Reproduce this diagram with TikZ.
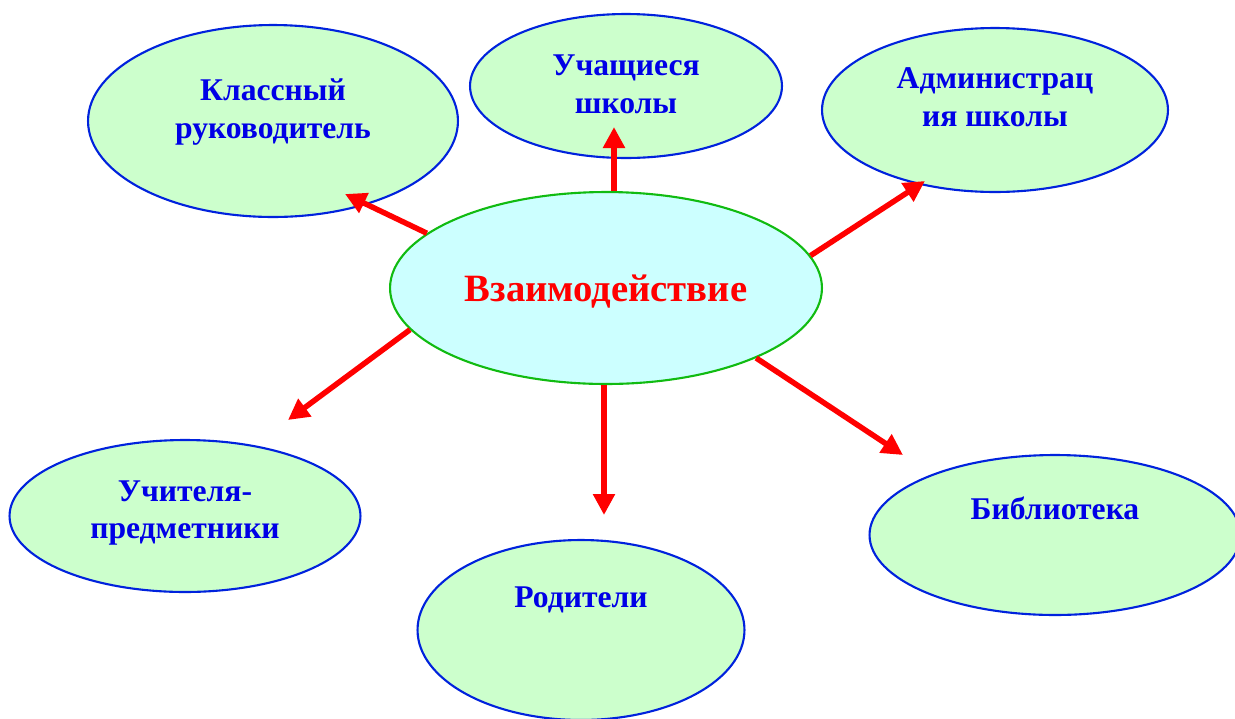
\documentclass[tikz,border=0pt]{standalone}
\usepackage{fontspec}
\setmainfont{Liberation Serif}
\usetikzlibrary{shapes.geometric,arrows.meta}

\definecolor{leaffill}{HTML}{CCFFCC}
\definecolor{leafdraw}{HTML}{0022DD}
\definecolor{hubfill}{HTML}{CCFFFF}
\definecolor{hubdraw}{HTML}{11BB11}
\definecolor{txtblue}{HTML}{0000E6}

\begin{document}
\begin{tikzpicture}[
            x=0.02cm, y=-0.02cm,
            leaf/.style={draw=leafdraw, fill=leaffill, ellipse, line width=1.2pt, inner sep=0pt},
            lbl/.style={text=txtblue, font=\bfseries\fontsize{18}{21.5}\selectfont, align=center},
            arr/.style={draw=red, line width=0.11cm, -{Triangle[length=0.42cm,width=0.42cm]}}
        ]
            \clip (0,0) rectangle (1235,718);
            % outer ellipses
            \node[leaf, minimum width=7.4cm, minimum height=3.84cm] (klass) at (273,121) {};
            \node[leaf, minimum width=6.24cm, minimum height=2.88cm] (uch) at (626,86) {};
            \node[leaf, minimum width=6.92cm, minimum height=3.28cm] (adm) at (995,110) {};
            \node[leaf, minimum width=7.02cm, minimum height=3.04cm] (pred) at (185,516) {};
            \node[leaf, minimum width=6.54cm, minimum height=3.6cm] (rod) at (581,630) {};
            \node[leaf, minimum width=7.42cm, minimum height=3.2cm] (bib) at (1055,535) {};
            % centre
            \node[ellipse, draw=hubdraw, fill=hubfill, line width=1.2pt, inner sep=0pt,
                  minimum width=8.64cm, minimum height=3.84cm] (vz) at (606,288) {};
            \node[text=red, font=\bfseries\fontsize{22}{26}\selectfont] at ([yshift=-0.08cm]vz) {Взаимодействие};
            % labels
            \node[lbl] at ([yshift=0.18cm]klass) {Классный\\руководитель};
            \node[lbl] at ([yshift=0.04cm]uch) {Учащиеся\\школы};
            \node[lbl] at ([yshift=0.26cm]adm) {Администрац\\ия школы};
            \node[lbl] at ([yshift=0.06cm]pred) {Учителя-\\предметники};
            \node[lbl] at ([yshift=0.6cm]rod) {Родители};
            \node[lbl] at ([yshift=0.54cm]bib) {Библиотека};
            % arrow ends
            \coordinate (t1) at (345,194);
            \coordinate (t2) at (614,127);
            \coordinate (t3) at (925,181);
            \coordinate (t4) at (288,420);
            \coordinate (t5) at (604,515);
            \coordinate (t6) at (903,455);
            \draw[arr] (vz.163.5) -- (t1);
            \draw[arr] (vz.north -| t2) -- (t2);
            \draw[arr] (vz.9.2) -- (t3);
            \draw[arr] (vz.192.8) -- (t4);
            \draw[arr] (vz.south -| t5) -- (t5);
            \draw[arr] (vz.335) -- (t6);
        \end{tikzpicture}
\end{document}
